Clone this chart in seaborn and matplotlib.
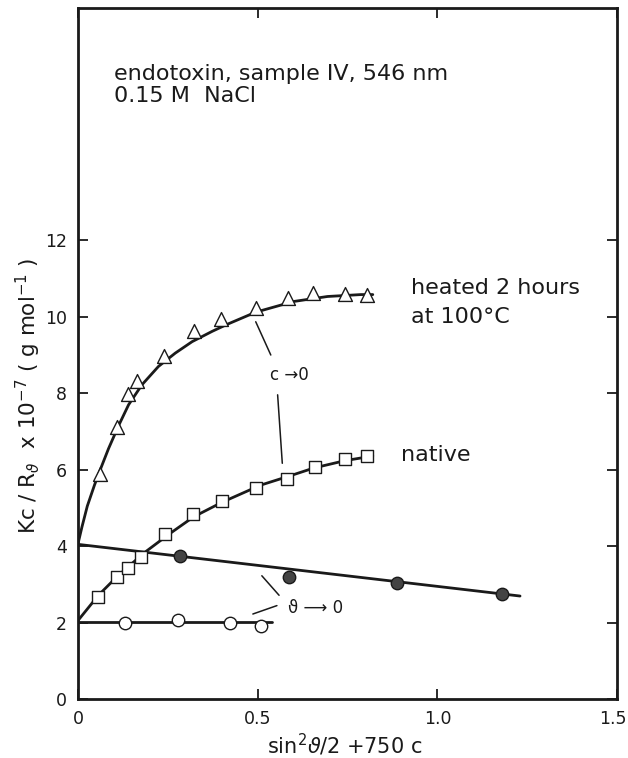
import matplotlib
matplotlib.use("Agg")
import matplotlib.pyplot as plt
import matplotlib.transforms as mtransforms
import seaborn as sns
import numpy as np
import pandas as pd

# ---- data ----
heated_x = [0.061, 0.109, 0.138, 0.163, 0.239, 0.321, 0.398, 0.494, 0.585, 0.654, 0.743, 0.805]
heated_y = [5.88, 7.11, 7.98, 8.33, 8.97, 9.64, 9.93, 10.22, 10.50, 10.61, 10.60, 10.58]

native_x = [0.056, 0.107, 0.138, 0.174, 0.242, 0.320, 0.400, 0.495, 0.582, 0.659, 0.743, 0.805]
native_y = [2.67, 3.21, 3.42, 3.73, 4.31, 4.84, 5.19, 5.53, 5.76, 6.07, 6.28, 6.36]

theta0_x = [0.282, 0.587, 0.887, 1.180]
theta0_y = [3.75, 3.21, 3.05, 2.75]

c0_x = [0.130, 0.277, 0.421, 0.508]
c0_y = [1.99, 2.07, 1.99, 1.92]

# fitted curves
heated_fit_x = [0, 0.01, 0.025, 0.045, 0.061, 0.084, 0.112, 0.14, 0.177, 0.223, 0.27, 0.317,
                0.373, 0.414, 0.494, 0.6, 0.694, 0.787, 0.82]
heated_fit_y = [4.1, 4.5, 5.05, 5.6, 6.0, 6.55, 7.15, 7.7, 8.22, 8.7, 9.05, 9.35,
                9.62, 9.8, 10.12, 10.4, 10.53, 10.58, 10.58]
native_fit_x = [0, 0.056, 0.107, 0.182, 0.25, 0.321, 0.4, 0.508, 0.582, 0.657, 0.743, 0.82]
native_fit_y = [2.07, 2.72, 3.2, 3.82, 4.3, 4.77, 5.15, 5.6, 5.82, 6.05, 6.24, 6.36]
theta0_fit_x = [0, 1.23]
theta0_fit_y = [4.05, 2.70]
c0_fit_x = [0, 0.54]
c0_fit_y = [2.03, 2.03]

x_ticks = [0, 0.5, 1.0, 1.5]
x_tick_labels = ["0", "0.5", "1.0", "1.5"]
y_ticks = [0, 2, 4, 6, 8, 10, 12]

sns.set_style("ticks")
plt.rcParams['font.family'] = ['DejaVu Sans']
plt.rcParams['mathtext.fontset'] = 'dejavusans'

fig = plt.figure(figsize=(6.28, 7.58), dpi=100)
ax = fig.add_axes([0.1247, 0.0774, 0.8578, 0.912])

ink = "#1a1a1a"
lw = 2.0

for fx, fy in [(heated_fit_x, heated_fit_y), (native_fit_x, native_fit_y),
               (theta0_fit_x, theta0_fit_y), (c0_fit_x, c0_fit_y)]:
    sns.lineplot(x=fx, y=fy, ax=ax, color=ink, lw=lw, sort=False, estimator=None)

sns.scatterplot(x=heated_x, y=heated_y, ax=ax, marker="^", s=100, facecolor="white",
                edgecolor=ink, linewidth=1.0, zorder=3)
sns.scatterplot(x=native_x, y=native_y, ax=ax, marker="s", s=65, facecolor="white",
                edgecolor=ink, linewidth=1.0, zorder=3)
sns.scatterplot(x=theta0_x, y=theta0_y, ax=ax, marker="o", s=80, facecolor="#444444",
                edgecolor=ink, linewidth=1.0, zorder=3)
sns.scatterplot(x=c0_x, y=c0_y, ax=ax, marker="o", s=80, facecolor="white",
                edgecolor=ink, linewidth=1.0, zorder=3)

# annotation leader lines
ax.plot([0.494, 0.536], [9.87, 9.0], color=ink, lw=1.1)
ax.plot([0.555, 0.568], [7.96, 6.17], color=ink, lw=1.1)
ax.plot([0.511, 0.559], [3.23, 2.72], color=ink, lw=1.1)
ax.plot([0.486, 0.553], [2.23, 2.45], color=ink, lw=1.1)

ax.text(0.535, 8.48, "c →0", fontsize=12, ha="left", va="center", color=ink)
ax.text(0.585, 2.39, "ϑ ⟶ 0", fontsize=12, ha="left", va="center", color=ink)

ax.text(0.0995, 16.35, "endotoxin, sample IV, 546 nm", fontsize=16, ha="left", va="center", color=ink)
ax.text(0.0995, 15.77, "0.15 M  NaCl", fontsize=16, ha="left", va="center", color=ink)
ax.text(0.925, 10.76, "heated 2 hours", fontsize=16, ha="left", va="center", color=ink)
ax.text(0.925, 10.0, "at 100°C", fontsize=16, ha="left", va="center", color=ink)
ax.text(0.899, 6.39, "native", fontsize=16, ha="left", va="center", color=ink)

ax.set_xlim(0, 1.5)
ax.set_ylim(0, 18.07)
ax.set_xticks(x_ticks)
ax.set_xticklabels(x_tick_labels)
ax.set_yticks(y_ticks)
ax.tick_params(axis="both", direction="in", length=7, width=1.3, labelsize=12.5,
               top=True, right=True, colors=ink, pad=8)
for s in ax.spines.values():
    s.set_linewidth(2.0)
    s.set_color(ink)

# keep the last x tick label inside the canvas
last = ax.get_xticklabels()[-1]
last.set_transform(last.get_transform() + mtransforms.ScaledTranslation(-4 / 100, 0, fig.dpi_scale_trans))

ax.set_xlabel("")
ax.set_ylabel("")
ax.text(-0.092, 0.439, r"Kc / R$_\vartheta$  x 10$^{-7}$ ( g mol$^{-1}$ )", transform=ax.transAxes,
        rotation=90, ha="center", va="center", fontsize=15.5, color=ink)
ax.text(0.495, -0.066, r"sin$^2$$\vartheta$/2 +750 c", transform=ax.transAxes,
        ha="center", va="center", fontsize=15, color=ink)

fig.savefig("out.png", dpi=100, facecolor="white")
